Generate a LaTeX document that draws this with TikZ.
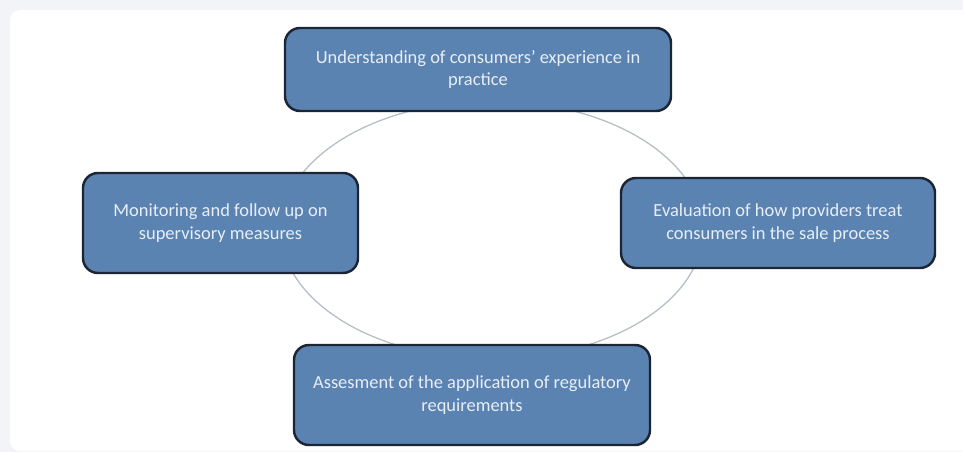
\documentclass[tikz,border=0pt]{standalone}
\usepackage{fontspec}
\setmainfont{Carlito}
\usepackage{xcolor}
\usetikzlibrary{shapes.geometric, positioning, backgrounds}

\definecolor{stagefill}{HTML}{5B83B1}
\definecolor{stageedge}{HTML}{1C2533}
\definecolor{stagetext}{HTML}{E8EEF5}
\definecolor{loopline}{HTML}{B4BCC6}
\definecolor{pagegray}{HTML}{F2F4F8}

\begin{document}
\begin{tikzpicture}[
    stage/.style={rectangle, rounded corners=0.3cm, draw=stageedge, line width=1.4pt,
        fill=stagefill, text=stagetext, align=center,
        font=\fontsize{10.5}{13}\selectfont, inner sep=0pt},
    loop/.style={ellipse, draw=loopline, line width=0.7pt, inner sep=0pt},
]
\useasboundingbox (0, 0) rectangle (19.26, -9.04);

% Page and panel
\fill[pagegray] (0, 0) rectangle (19.26, -9.04);
\fill[white, rounded corners=0.2cm] (0.2, -0.2) rectangle (19.6, -9.02);

% Cycle behind the stages
\node[loop, minimum width=8.44cm, minimum height=5.16cm] (cycle) at (9.84, -4.6) {};

% Stages
\node[stage, minimum width=7.72cm, minimum height=1.66cm] (understand) at (9.56, -1.39)
    {Understanding of consumers’ experience in\\practice};
\node[stage, minimum width=6.28cm, minimum height=1.8cm] (evaluate) at (15.56, -4.46)
    {Evaluation of how providers treat\\consumers in the sale process};
\node[stage, minimum width=7.12cm, minimum height=2.0cm] (assess) at (9.44, -7.9)
    {Assesment of the application of regulatory\\requirements};
\node[stage, minimum width=5.5cm, minimum height=2.0cm] (monitor) at (4.41, -4.46)
    {Monitoring and follow up on\\supervisory measures};

\end{tikzpicture}
\end{document}
